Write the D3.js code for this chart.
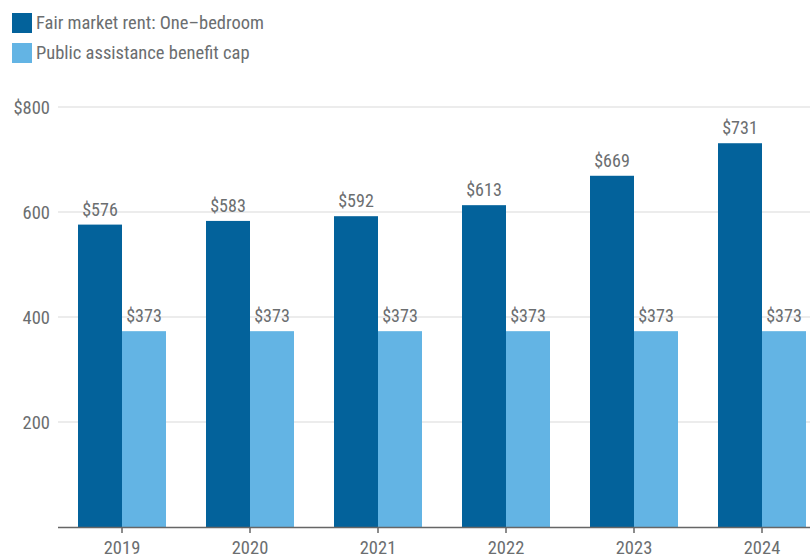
<!DOCTYPE html>
<html>
<head>
<meta charset="utf-8">
<script src="https://cdn.jsdelivr.net/npm/d3@7"></script>
<style>
  html, body { margin: 0; padding: 0; background: #fff; }
  svg text { font-family: "Liberation Sans Narrow", "Roboto Condensed", "Arial Narrow", sans-serif; fill: #6b6e70; }
</style>
</head>
<body>
<svg id="chart" width="810" height="559"></svg>
<script>
// Years on the x axis
const years = ["2019", "2020", "2021", "2022", "2023", "2024"];
// Monthly fair market rent for a one-bedroom unit
const fairMarketRent = [576, 583, 592, 613, 669, 731];
// Monthly public assistance benefit cap
const benefitCap = [373, 373, 373, 373, 373, 373];
// Series names and y-axis ticks
const seriesNames = ["Fair market rent: One\u2013bedroom", "Public assistance benefit cap"];
const yTicks = [200, 400, 600, 800];

const colors = ["#03629b", "#63b4e4"];
const svg = d3.select("#chart");

const plotLeft = 58, plotRight = 810, plotTop = 107, plotBottom = 527;

const x = d3.scaleBand()
  .domain(years)
  .range([plotLeft, plotLeft + 128 * years.length])
  .paddingInner(0.3125)
  .paddingOuter(0.15625);

const xSub = d3.scaleBand()
  .domain([0, 1])
  .range([0, x.bandwidth()]);

const y = d3.scaleLinear().domain([0, 800]).range([plotBottom, plotTop]);

// Gridlines
svg.append("g")
  .selectAll("line")
  .data(yTicks)
  .join("line")
  .attr("x1", plotLeft)
  .attr("x2", plotRight)
  .attr("y1", d => y(d))
  .attr("y2", d => y(d))
  .attr("stroke", "#e6e6e6")
  .attr("stroke-width", 1.5);

// Y tick labels
svg.append("g")
  .selectAll("text")
  .data(yTicks)
  .join("text")
  .attr("x", 50)
  .attr("y", d => y(d) + 6.5)
  .attr("text-anchor", "end")
  .attr("font-size", 18.5)
  .text(d => d === 800 ? "$" + d : d);

const rows = years.map((yr, i) => ({ year: yr, values: [fairMarketRent[i], benefitCap[i]] }));

const groups = svg.append("g")
  .selectAll("g")
  .data(rows)
  .join("g")
  .attr("transform", d => `translate(${x(d.year)},0)`);

groups.selectAll("rect")
  .data(d => d.values.map((v, k) => ({ v, k })))
  .join("rect")
  .attr("x", d => xSub(d.k))
  .attr("width", xSub.bandwidth())
  .attr("y", d => y(d.v))
  .attr("height", d => y(0) - y(d.v))
  .attr("fill", d => colors[d.k]);

groups.selectAll("text.val")
  .data(d => d.values.map((v, k) => ({ v, k })))
  .join("text")
  .attr("class", "val")
  .attr("x", d => xSub(d.k) + xSub.bandwidth() / 2)
  .attr("y", d => y(d.v) - 9)
  .attr("text-anchor", "middle")
  .attr("font-size", 18)
  .text(d => "$" + d.v);

// X axis
const xAxis = svg.append("g");
xAxis.append("line")
  .attr("x1", plotLeft).attr("x2", plotRight)
  .attr("y1", plotBottom + 0.5).attr("y2", plotBottom + 0.5)
  .attr("stroke", "#666").attr("stroke-width", 1.5);
xAxis.selectAll("line.tick")
  .data(years)
  .join("line")
  .attr("class", "tick")
  .attr("x1", d => x(d) + x.bandwidth() / 2)
  .attr("x2", d => x(d) + x.bandwidth() / 2)
  .attr("y1", plotBottom)
  .attr("y2", plotBottom + 6)
  .attr("stroke", "#666").attr("stroke-width", 1.5);
xAxis.selectAll("text")
  .data(years)
  .join("text")
  .attr("x", d => x(d) + x.bandwidth() / 2)
  .attr("y", 554)
  .attr("text-anchor", "middle")
  .attr("font-size", 18.5)
  .text(d => d);

// Legend
const legend = svg.append("g");
seriesNames.forEach((name, i) => {
  legend.append("rect")
    .attr("x", 12).attr("y", 13 + i * 30)
    .attr("width", 20).attr("height", 20)
    .attr("fill", colors[i]);
  legend.append("text")
    .attr("x", 36).attr("y", 29 + i * 30)
    .attr("font-size", 18.5)
    .text(name);
});
</script>
</body>
</html>
